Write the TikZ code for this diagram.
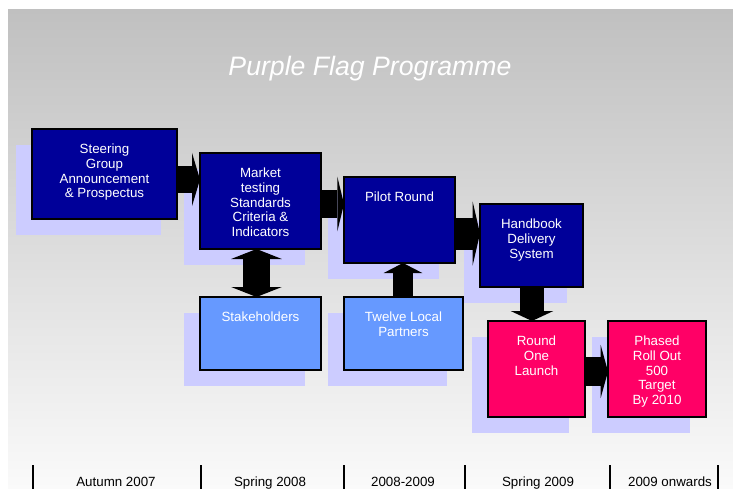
\documentclass[tikz,border=0pt]{standalone}
\usepackage{fontspec}
\setmainfont{Liberation Sans}
\usetikzlibrary{arrows.meta,shadows}
\definecolor{navybox}{RGB}{0,0,153}
\definecolor{skybox}{RGB}{102,153,255}
\definecolor{pinkbox}{RGB}{255,0,102}
\definecolor{shadowblue}{RGB}{204,204,255}
\definecolor{bgtop}{RGB}{192,192,192}
\definecolor{bgbottom}{RGB}{250,250,250}

\begin{document}
\begin{tikzpicture}
[
x=0.75pt, y=-0.75pt,
box/.style={draw=black, line width=1.1pt, inner sep=0pt, outer sep=0pt, anchor=north west,
  drop shadow={shadow xshift=-12pt, shadow yshift=-12pt, fill=shadowblue, opacity=1}},
darkbox/.style={box, fill=navybox},
lightbox/.style={box, fill=skybox},
pinkbox/.style={box, fill=pinkbox},
boxtext/.style={anchor=north, inner sep=0pt, yshift=-11.3pt, align=center, text=white,
  font=\fontsize{10}{11}\selectfont},
bigarrow/.style n args={3}{line width=#1, -{Triangle[length=#3, width=#2, line width=0pt]}},
bigdouble/.style n args={3}{line width=#1,
  {Triangle[length=#3, width=#2, line width=0pt]}-{Triangle[length=#3, width=#2, line width=0pt]}},
period/.style={anchor=base, font=\fontsize{10}{12}\selectfont}
]
\useasboundingbox (0,0) rectangle (733,489);
\shade[top color=bgtop, bottom color=bgbottom] (8,9) rectangle (733,489);

\node[anchor=base, text=white, font=\fontsize{20}{24}\selectfont\itshape] (title) at (370,75) {Purple Flag Programme};

\node[darkbox, minimum width=108.75pt, minimum height=67.5pt,
  label={[boxtext]north:{Steering\\Group\\Announcement\\\& Prospectus}}] (steer) at (32,129) {};
\node[darkbox, minimum width=90.75pt, minimum height=72pt,
  label={[boxtext]north:{Market\\testing\\Standards\\Criteria \&\\Indicators}}] (market) at (200,153) {};
\node[darkbox, minimum width=83.25pt, minimum height=64.5pt,
  label={[boxtext]north:{Pilot Round}}] (pilot) at (344,177) {};
\node[darkbox, minimum width=77.25pt, minimum height=62.25pt,
  label={[boxtext]north:{Handbook\\Delivery\\System}}] (handbook) at (480,204) {};
\node[lightbox, minimum width=90.75pt, minimum height=54.75pt,
  label={[boxtext]north:{Stakeholders}}] (stake) at (200,297) {};
\node[lightbox, minimum width=89.25pt, minimum height=54.75pt,
  label={[boxtext]north:{Twelve Local\\Partners}}] (partners) at (344,297) {};
\node[pinkbox, minimum width=72.75pt, minimum height=72pt,
  label={[boxtext]north:{Round\\One\\Launch}}] (launch) at (488,321) {};
\node[pinkbox, minimum width=73.5pt, minimum height=72pt,
  label={[boxtext]north:{Phased\\Roll Out\\500\\Target\\By 2010}}] (rollout) at (608,321) {};

\draw[bigarrow={20pt}{40pt}{6pt}] (steer.east |- 0,179.5) -- (market.west |- 0,179.5);
\draw[bigarrow={21pt}{41pt}{5pt}] (market.east |- 0,204) -- (pilot.west |- 0,204);
\draw[bigarrow={24pt}{48pt}{5.5pt}] (pilot.east |- 0,233.5) -- (handbook.west |- 0,233.5);
\draw[bigarrow={22pt}{40pt}{5.5pt}] (launch.east |- 0,371.5) -- (rollout.west |- 0,371.5);
\draw[bigarrow={18pt}{32pt}{7.5pt}] (handbook.south -| 532,0) -- (launch.north -| 532,0);
\draw[bigdouble={20pt}{38pt}{7.5pt}] (market.south -| 256.5,0) -- (stake.north -| 256.5,0);
\draw[bigarrow={15pt}{29pt}{7.5pt}] (partners.north -| 403,0) -- (pilot.south -| 403,0);

\foreach \x in {33,201,344,465,610,718}
  \draw[line width=1.5pt] (\x,465) -- (\x,489);
\node[period] (autumn) at (116,486) {Autumn 2007};
\node[period] (spring1) at (270,486) {Spring 2008};
\node[period] (pilotyears) at (403,486) {2008-2009};
\node[period] (spring2) at (538,486) {Spring 2009};
\node[period] (onwards) at (670,486) {2009 onwards};
\end{tikzpicture}
\end{document}
